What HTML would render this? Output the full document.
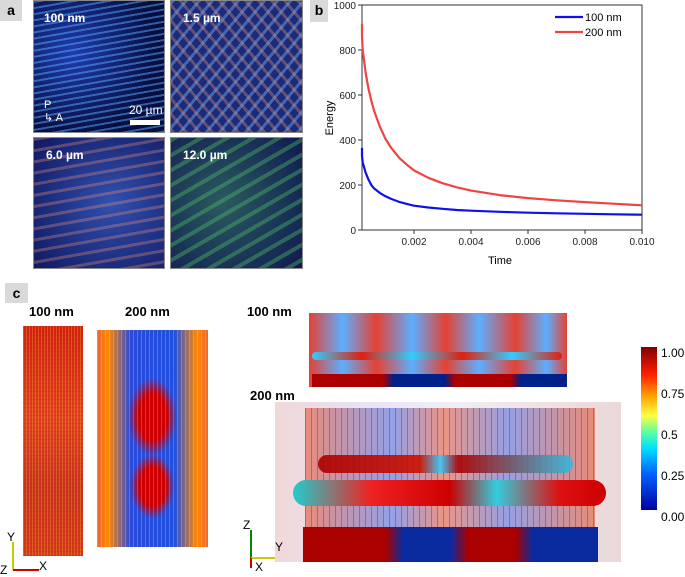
<!DOCTYPE html>
<html><head><meta charset="utf-8"><style>
body{margin:0;width:685px;height:572px;background:#fff;position:relative;overflow:hidden;font-family:"Liberation Sans",sans-serif}
.abs{position:absolute}
.tag{position:absolute;background:#d9d9d9;font-weight:bold;font-size:14px;text-align:center;line-height:21px}
.mic{position:absolute;border:1px solid #888;overflow:hidden;
background:repeating-linear-gradient(170deg,rgba(90,170,255,.5) 0 2px,transparent 2px 6px),radial-gradient(circle at 30% 40%,#1e3cae,#060d40 70%),#101a70}
.mic .t{position:absolute;color:#fff;font-weight:bold;font-size:12px}
.lbl{position:absolute;font-weight:bold;font-size:13px}
</style></head><body>
<div class="tag" style="left:0;top:0;width:22px;height:21px">a</div>
<div class="mic" style="left:33px;top:0;width:130px;height:131px"><span class="t" style="left:10px;top:10px">100 nm</span>
<span class="t" style="left:95px;top:102px;font-size:12px;font-weight:normal">20 µm</span><div class="abs" style="left:96px;top:119px;width:30px;height:5px;background:#fff"></div>
<span class="t" style="left:10px;top:98px;font-weight:normal;font-size:11px">P<br>↳ A</span></div>
<div class="mic" style="left:170px;top:0;width:131px;height:131px;background:repeating-linear-gradient(50deg,rgba(230,150,120,.35) 0 3px,transparent 3px 10px),repeating-linear-gradient(130deg,rgba(130,190,255,.4) 0 3px,transparent 3px 10px),#1c2a7a"><span class="t" style="left:12px;top:10px">1.5 µm</span></div>
<div class="mic" style="left:33px;top:137px;width:130px;height:130px;background:repeating-linear-gradient(170deg,rgba(230,140,120,.35) 0 3px,transparent 3px 11px),radial-gradient(circle at 60% 50%,#3050b0,#101860),#1a2890"><span class="t" style="left:12px;top:10px">6.0 µm</span></div>
<div class="mic" style="left:170px;top:137px;width:131px;height:130px;background:repeating-linear-gradient(150deg,rgba(80,190,100,.4) 0 4px,transparent 4px 13px),radial-gradient(circle at 40% 50%,#2a5a60,#101a50),#1a3070"><span class="t" style="left:12px;top:10px">12.0 µm</span></div>

<div class="tag" style="left:310px;top:0;width:18px;height:22px">b</div>
<svg class="abs" style="left:0;top:0" width="685" height="280">
<g id="axes"></g><g id="lines"></g>
</svg>

<div class="tag" style="left:5px;top:283px;width:23px;height:20px">c</div>
<div class="lbl" style="left:29px;top:304px">100 nm</div>
<div class="lbl" style="left:125px;top:304px">200 nm</div>
<div class="lbl" style="left:247px;top:304px">100 nm</div>
<div class="lbl" style="left:250px;top:388px">200 nm</div>
<div class="abs" style="left:23px;top:326px;width:60px;height:230px;background:repeating-linear-gradient(0deg,rgba(60,80,220,.35) 0 1px,transparent 1px 4px),repeating-linear-gradient(90deg,rgba(255,200,60,.3) 0 1px,transparent 1px 3px),linear-gradient(#d02010,#e04020 40%,#c83020 70%,#d43818)"></div>
<div class="abs" style="left:97px;top:330px;width:111px;height:217px;background:repeating-linear-gradient(90deg,rgba(255,255,0,.25) 0 1px,transparent 1px 4px),radial-gradient(ellipse 22% 18% at 50% 40%,#c00 60%,transparent 100%),radial-gradient(ellipse 20% 15% at 50% 72%,#c00 60%,transparent 100%),linear-gradient(90deg,#e63 0,#f80 10%,#2a4adb 30%,#2050e0 70%,#f80 90%,#e63 100%),#fa0"></div>
<div class="abs" style="left:309px;top:313px;width:258px;height:74px;background:linear-gradient(90deg,#e02010,#40a0ff 13%,#e02010 26%,#40a0ff 40%,#e02010 53%,#40a0ff 66%,#e02010 80%,#40a0ff 92%,#e02010);opacity:.85"></div>
<div class="abs" style="left:312px;top:374px;width:255px;height:13px;background:linear-gradient(90deg,#a00 0 28%,#00208a 32% 52%,#a00 56% 78%,#00208a 82%)"></div>
<div class="abs" style="left:312px;top:352px;width:250px;height:8px;border-radius:4px;background:linear-gradient(90deg,#3cf,#e02010 20%,#3cf 40%,#e02010 60%,#3cf 80%,#e02010)"></div>
<div class="abs" style="left:275px;top:402px;width:346px;height:160px;background:linear-gradient(90deg,#f0d8d8,#e8e0f0 20%,#eeeef8 50%,#f0e0e0 80%,#e8d8d8)"></div>
<div class="abs" style="left:305px;top:408px;width:290px;height:120px;background:repeating-linear-gradient(90deg,rgba(220,40,20,.55) 0 1px,transparent 1px 6px),linear-gradient(90deg,rgba(230,60,20,.5),rgba(60,90,220,.5) 30%,rgba(230,60,20,.5) 48%,rgba(60,90,220,.5) 70%,rgba(230,60,20,.5))"></div>
<div class="abs" style="left:318px;top:455px;width:255px;height:18px;border-radius:9px;background:linear-gradient(90deg,#a00,#c10 40%,#3cf 48%,#a00 55%,#3bd);opacity:.9"></div>
<div class="abs" style="left:293px;top:480px;width:313px;height:26px;border-radius:13px;background:linear-gradient(90deg,#2cc,#e22 25%,#c00 50%,#3cd 65%,#d11 85%,#c00)"></div>
<div class="abs" style="left:303px;top:527px;width:295px;height:35px;background:linear-gradient(90deg,#a00 0 28%,#0a2aa0 34% 50%,#a00 56% 72%,#0a2aa0 78%)"></div>
<div class="abs" style="left:641px;top:347px;width:16px;height:163px;background:linear-gradient(#800000,#ff2000 17%,#ffa000 30%,#ffff40 42%,#60ffa0 52%,#00e0ff 62%,#0060ff 78%,#0000a0)"></div>
<div class="abs" style="left:661px;top:333px;font-size:12px;line-height:41px">1.00<br>0.75<br>0.5<br>0.25<br>0.00</div>
<div class="abs" style="left:3px;top:530px;font-size:12px"><div class="abs" style="left:9px;top:12px;width:2px;height:28px;background:#cc0"></div><div class="abs" style="left:10px;top:39px;width:26px;height:2px;background:#c00"></div><span class="abs" style="left:4px;top:0">Y</span><span class="abs" style="left:36px;top:29px">X</span><span class="abs" style="left:-3px;top:33px">Z</span></div>
<div class="abs" style="left:240px;top:518px;font-size:12px"><div class="abs" style="left:10px;top:12px;width:2px;height:28px;background:#080"></div><div class="abs" style="left:11px;top:39px;width:24px;height:2px;background:#cc0"></div><div class="abs" style="left:10px;top:40px;width:2px;height:10px;background:#c00"></div><span class="abs" style="left:3px;top:0">Z</span><span class="abs" style="left:35px;top:22px">Y</span><span class="abs" style="left:15px;top:42px">X</span></div>
<script>
const times=[0.0001,0.00015,0.0002,0.0003,0.0004,0.0005,0.0006,0.0008,0.001,0.0012,0.0015,0.0018,0.002,0.0025,0.003,0.0035,0.004,0.005,0.006,0.007,0.008,0.009,0.010];
const energy100=[365,330,300,255,225,200,185,165,150,138,124,114,108,100,94,89,86,81,77,74,72,70,68];
const energy200=[915,860,800,700,630,575,530,460,405,365,318,285,265,232,208,190,175,155,142,132,124,117,110];
const yTicks=[0,200,400,600,800,1000];
const xTicks=[0.002,0.004,0.006,0.008,0.010];
const X0=357,X1=642,Y0=230,Y1=5,PL=362;
const sx=t=>X0+(t/0.010)*(X1-X0), sy=v=>Y0-(v/1000)*(Y0-Y1);
const NS='http://www.w3.org/2000/svg';
const ax=document.getElementById('axes'), ln=document.getElementById('lines');
function mk(tag,at,par){const e=document.createElementNS(NS,tag);for(const k in at)e.setAttribute(k,at[k]);par.appendChild(e);return e;}
const frame=mk('rect',{x:PL,y:Y1,width:X1-PL,height:Y0-Y1,fill:'none',stroke:'#333','stroke-width':1},ax);


yTicks.forEach(v=>{mk('line',{x1:PL-4,x2:PL,y1:sy(v),y2:sy(v),stroke:'#333'},ax);
 const t=mk('text',{x:PL-6,y:sy(v)+4,'text-anchor':'end','font-size':10,fill:'#222'},ax);t.textContent=v;
 
 });
xTicks.forEach(v=>{mk('line',{x1:sx(v),x2:sx(v),y1:Y0,y2:Y0+4,stroke:'#333'},ax);
 const t=mk('text',{x:sx(v),y:Y0+15,'text-anchor':'middle','font-size':10,fill:'#222'},ax);t.textContent=v.toFixed(3);
 
 });
const xt=mk('text',{x:500,y:264,'text-anchor':'middle','font-size':11},ax);xt.textContent='Time';


const yt=mk('text',{x:0,y:0,'text-anchor':'middle','font-size':11,transform:'translate(333,118) rotate(-90)'},ax);yt.textContent='Energy';


function path(vals,color,name){const d=times.map((t,i)=>(i?'L':'M')+Math.max(sx(t),PL).toFixed(1)+','+sy(vals[i]).toFixed(1)).join('');
 const p=mk('path',{d:d,fill:'none',stroke:color,'stroke-width':2.2,'stroke-linejoin':'round'},ln);
 
 }
path(energy100,'#1010ee','line-100nm');path(energy200,'#ee4444','line-200nm');
[['100 nm','#1010ee',17],['200 nm','#ee4444',32]].forEach(l=>{
 mk('line',{x1:555,x2:583,y1:l[2],y2:l[2],stroke:l[1],'stroke-width':2.2},ln);
 const t=mk('text',{x:585,y:l[2]+4,'font-size':11},ln);t.textContent=l[0];
 
 });
</script>
</body></html>
